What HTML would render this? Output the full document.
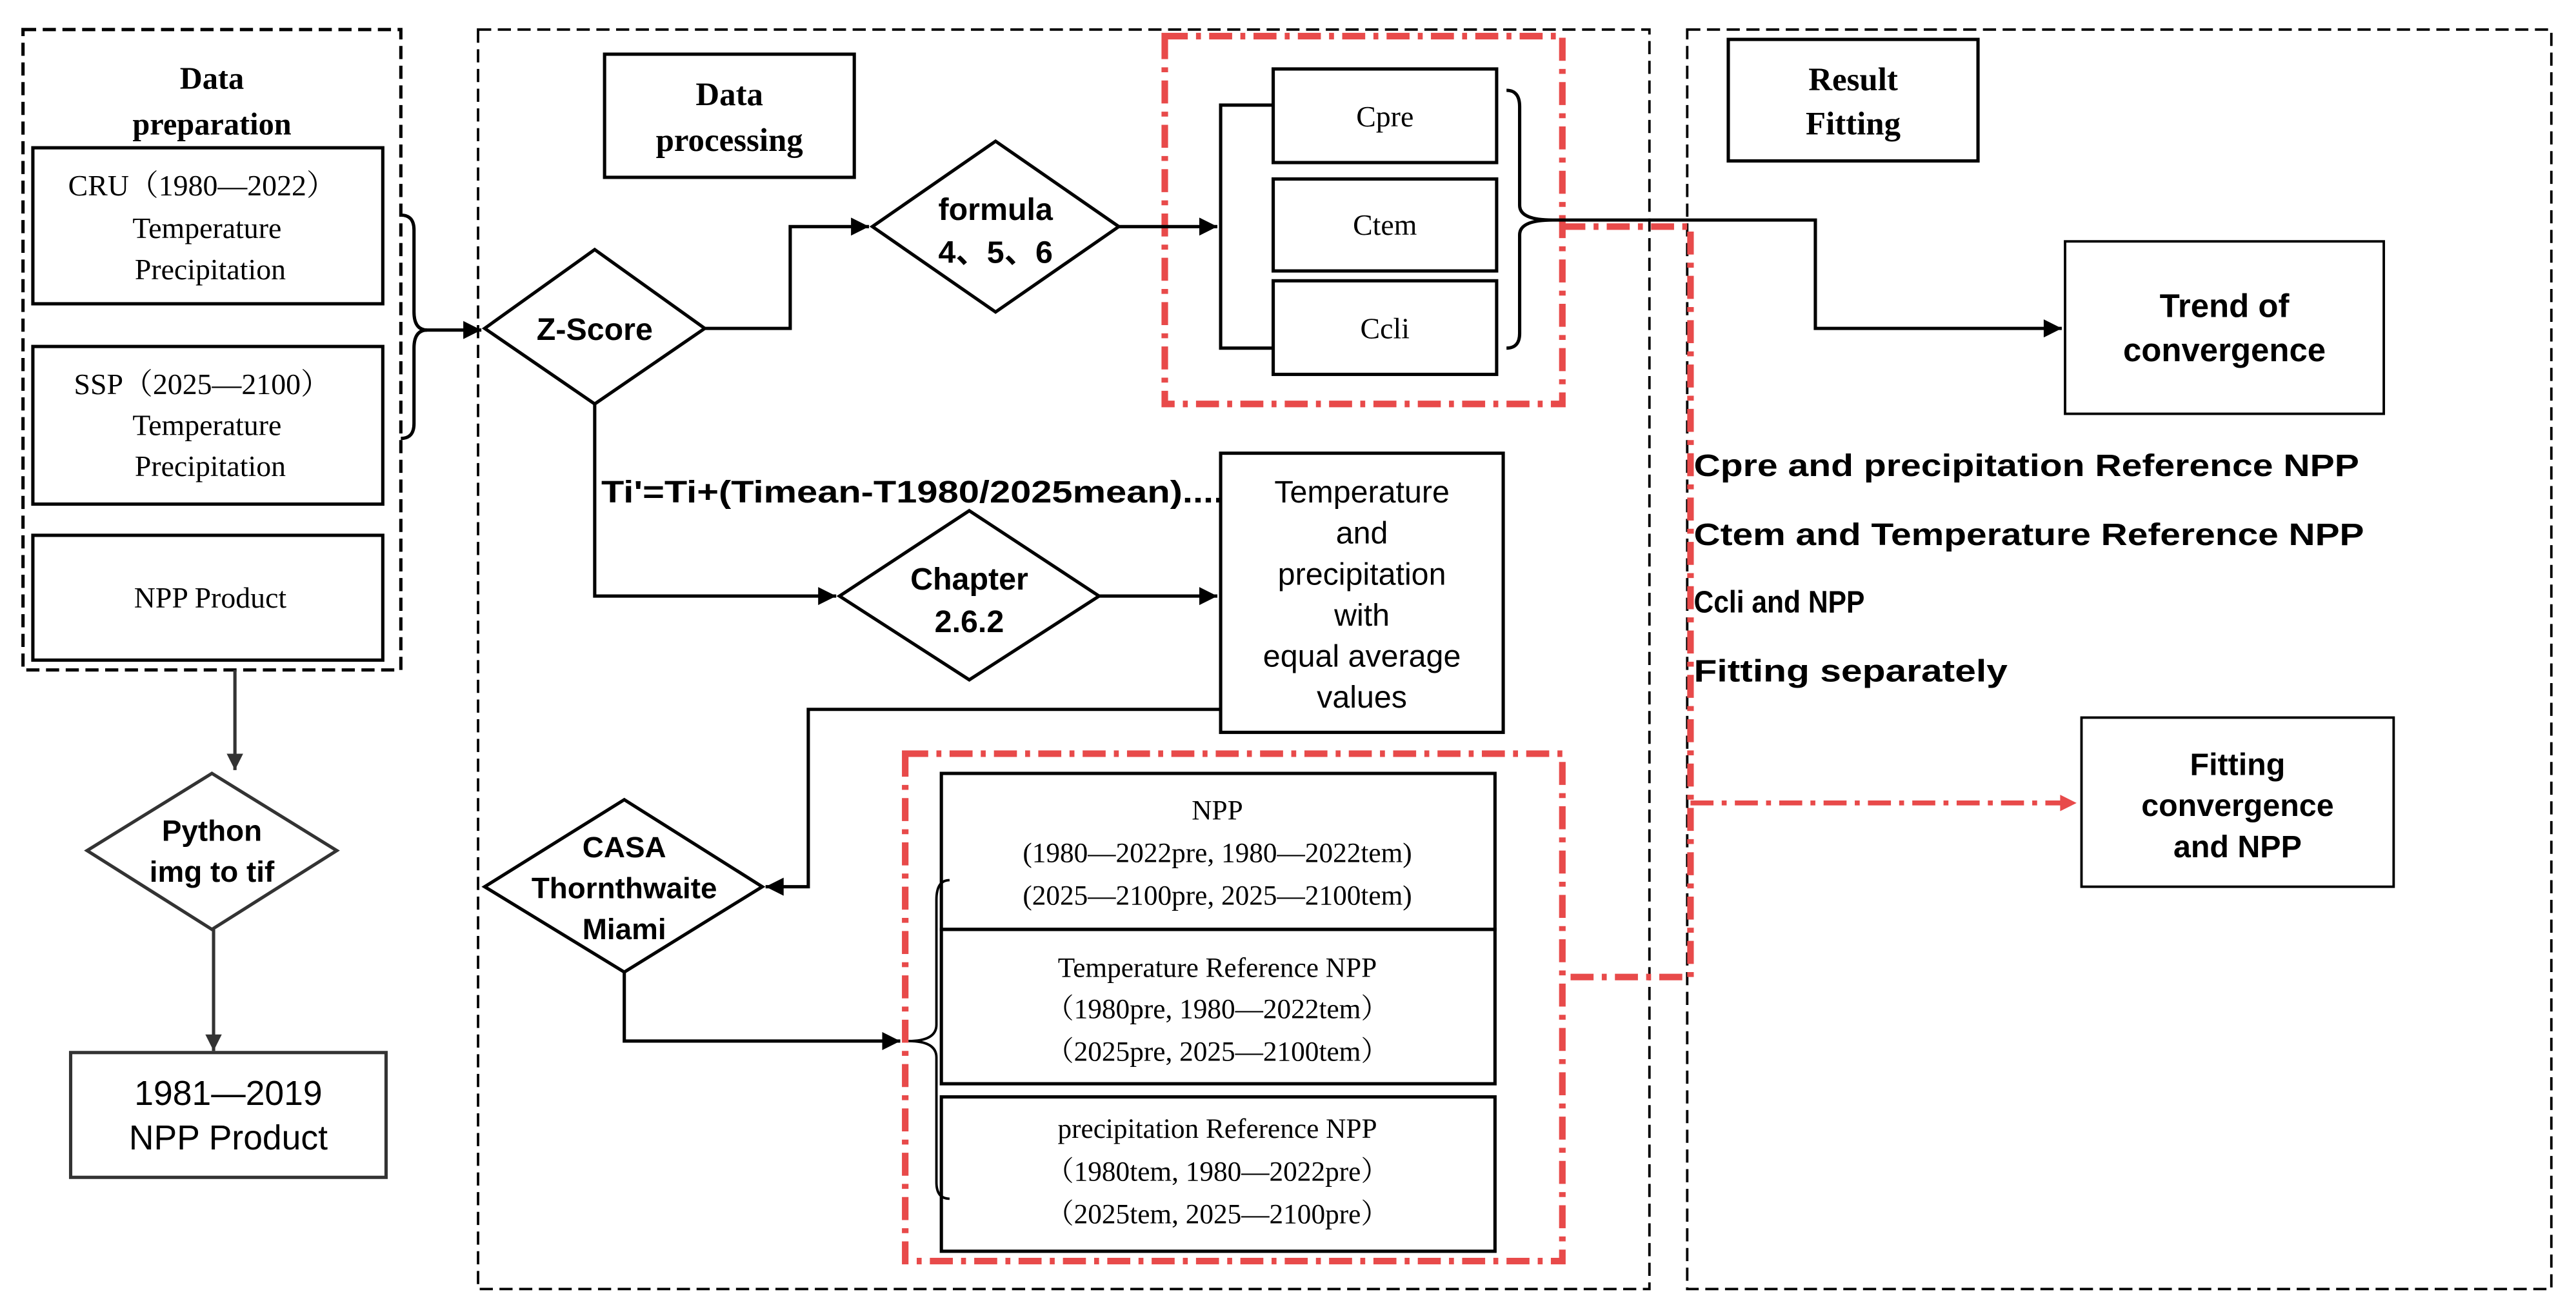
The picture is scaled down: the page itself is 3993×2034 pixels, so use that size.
<!DOCTYPE html>
<html><head><meta charset="utf-8"><style>
html,body{margin:0;padding:0;background:#fff;}
svg{display:block;}
.sf{font-family:"Liberation Serif","Noto Serif CJK SC",serif;}
.ss{font-family:"Liberation Sans","Noto Sans CJK SC",sans-serif;}
</style></head><body>
<svg width="3993" height="2034" viewBox="0 0 1568 799" preserveAspectRatio="none" xmlns="http://www.w3.org/2000/svg">
<defs>
<marker id="ah" viewBox="0 0 10 10" refX="10" refY="5" markerWidth="12" markerHeight="11" markerUnits="userSpaceOnUse" orient="auto"><path d="M0,0 L10,5 L0,10 z" fill="#000"/></marker>
<marker id="ahg" viewBox="0 0 10 10" refX="10" refY="5" markerWidth="14" markerHeight="10" markerUnits="userSpaceOnUse" orient="auto"><path d="M0,0 L10,5 L0,10 z" fill="#333"/></marker>
<marker id="ahr" viewBox="0 0 10 10" refX="10" refY="5" markerWidth="12" markerHeight="10" markerUnits="userSpaceOnUse" orient="auto"><path d="M0,0 L10,5 L0,10 z" fill="#e84a4a"/></marker>
</defs>
<rect width="1568" height="799" fill="#fff"/>
<g fill="none" stroke="#000" stroke-width="2" stroke-dasharray="8,4">
<rect x="14" y="18" width="230" height="390"/>
<rect x="291" y="18" width="713" height="767" stroke-width="1.5"/>
<rect x="1027" y="18" width="526" height="767" stroke-width="1.5"/>
</g>
<g fill="none" stroke="#e84a4a" stroke-width="4" stroke-dasharray="14,5,3,5">
<rect x="709" y="22" width="242" height="224"/>
<rect x="551" y="459" width="400" height="309"/>
<polyline points="951,138 1029,138 1029,595 951,595"/>
<line x1="1029" y1="489" x2="1264" y2="489" stroke-width="3" marker-end="url(#ahr)"/>
</g>
<g fill="none" stroke="#000" stroke-width="2">
<rect x="20" y="90" width="213" height="95"/>
<rect x="20" y="211" width="213" height="96"/>
<rect x="20" y="326" width="213" height="76"/>
<rect x="368" y="33" width="152" height="75"/>
<rect x="775" y="42" width="136" height="57"/>
<rect x="775" y="109" width="136" height="56"/>
<rect x="775" y="171" width="136" height="57"/>
<rect x="1052" y="24" width="152" height="74"/>
<rect x="1257" y="147" width="194" height="105" stroke-width="1.5"/>
<rect x="1267" y="437" width="190" height="103" stroke-width="1.5"/>
<rect x="743" y="276" width="172" height="170"/>
<rect x="573" y="471" width="337" height="95"/>
<rect x="573" y="566" width="337" height="94"/>
<rect x="573" y="668" width="337" height="94"/>
<rect x="43" y="641" width="192" height="76" stroke="#333"/>
<polygon points="362,152 429,200 362,246 295,200"/>
<polygon points="606,86 681,138 606,190 531,138"/>
<polygon points="590,311 669,363 590,414 511,363"/>
<polygon points="380,487 464,540 380,592 295,540"/>
<polygon points="129,471 205,518 129,566 53,518" stroke="#333"/>
</g>
<g fill="none" stroke="#000" stroke-width="2">
<path d="M244,131 Q252,131 252,140 L252,190 Q252,201 260,201 Q252,201 252,212 L252,258 Q252,267 244,267"/>
<line x1="256" y1="201" x2="293" y2="201" marker-end="url(#ah)"/>
<polyline points="429,200 481,200 481,138 529,138" marker-end="url(#ah)"/>
<line x1="681" y1="138" x2="741" y2="138" marker-end="url(#ah)"/>
<polyline points="775,64 743,64 743,212 775,212"/>
<path d="M917,55 Q925,55 925,65 L925,125 Q925,134 945,134 Q925,134 925,143 L925,203 Q925,212 917,212"/>
<polyline points="945,134 1105,134 1105,200 1255,200" marker-end="url(#ah)"/>
<polyline points="362,246 362,363 509,363" marker-end="url(#ah)"/>
<line x1="669" y1="363" x2="741" y2="363" marker-end="url(#ah)"/>
<polyline points="743,432 492,432 492,540 466,540" marker-end="url(#ah)"/>
<polyline points="380,592 380,634 548,634" marker-end="url(#ah)"/>
<path d="M578,536 Q570,536 570,548 L570,624 Q570,634 553,634 Q570,634 570,644 L570,720 Q570,730 578,730" stroke-width="1.5"/>
<line x1="143" y1="408" x2="143" y2="469" stroke="#333" marker-end="url(#ahg)"/>
<line x1="130" y1="566" x2="130" y2="640" stroke="#333" marker-end="url(#ahg)"/>
</g>
<g class="sf" text-anchor="middle" fill="#000">
<text x="129" y="54" font-size="19" font-weight="bold">Data</text>
<text x="129" y="82" font-size="19" font-weight="bold">preparation</text>
<text x="123" y="119" font-size="18">CRU（1980—2022）</text>
<text x="126" y="145" font-size="18">Temperature</text>
<text x="128" y="170" font-size="18">Precipitation</text>
<text x="123" y="240" font-size="18">SSP（2025—2100）</text>
<text x="126" y="265" font-size="18">Temperature</text>
<text x="128" y="290" font-size="18">Precipitation</text>
<text x="128" y="370" font-size="18">NPP Product</text>
<text x="444" y="64" font-size="20" font-weight="bold">Data</text>
<text x="444" y="92" font-size="20" font-weight="bold">processing</text>
<text x="1128" y="55" font-size="20" font-weight="bold">Result</text>
<text x="1128" y="82" font-size="20" font-weight="bold">Fitting</text>
<text x="843" y="77" font-size="18">Cpre</text>
<text x="843" y="143" font-size="18">Ctem</text>
<text x="843" y="206" font-size="18">Ccli</text>
<text x="741" y="499" font-size="17">NPP</text>
<text x="741" y="525" font-size="17">(1980—2022pre, 1980—2022tem)</text>
<text x="741" y="551" font-size="17">(2025—2100pre, 2025—2100tem)</text>
<text x="741" y="595" font-size="17">Temperature Reference NPP</text>
<text x="741" y="620" font-size="17">（1980pre, 1980—2022tem）</text>
<text x="741" y="646" font-size="17">（2025pre, 2025—2100tem）</text>
<text x="741" y="693" font-size="17">precipitation Reference NPP</text>
<text x="741" y="719" font-size="17">（1980tem, 1980—2022pre）</text>
<text x="741" y="745" font-size="17">（2025tem, 2025—2100pre）</text>
</g>
<g class="ss" text-anchor="middle" fill="#000" font-weight="bold">
<text x="362" y="207" font-size="19">Z-Score</text>
<text x="606" y="134" font-size="19">formula</text>
<text x="606" y="160" font-size="19">4、5、6</text>
<text x="590" y="359" font-size="19">Chapter</text>
<text x="590" y="385" font-size="19">2.6.2</text>
<text x="380" y="522" font-size="18">CASA</text>
<text x="380" y="547" font-size="18">Thornthwaite</text>
<text x="380" y="572" font-size="18">Miami</text>
<text x="129" y="512" font-size="18">Python</text>
<text x="129" y="537" font-size="18">img to tif</text>
<text x="1354" y="193" font-size="20">Trend of</text>
<text x="1354" y="220" font-size="20">convergence</text>
<text x="1362" y="472" font-size="19">Fitting</text>
<text x="1362" y="497" font-size="19">convergence</text>
<text x="1362" y="522" font-size="19">and NPP</text>
</g>
<g class="ss" fill="#000" font-weight="bold" font-size="19">
<text x="366" y="306" textLength="379" lengthAdjust="spacingAndGlyphs">Ti'=Ti+(Timean-T1980/2025mean)....</text>
<text x="1031" y="290" textLength="405" lengthAdjust="spacingAndGlyphs">Cpre and precipitation Reference NPP</text>
<text x="1031" y="332" textLength="408" lengthAdjust="spacingAndGlyphs">Ctem and Temperature Reference NPP</text>
<text x="1031" y="373" textLength="104" lengthAdjust="spacingAndGlyphs">Ccli and NPP</text>
<text x="1031" y="415" textLength="191" lengthAdjust="spacingAndGlyphs">Fitting separately</text>
</g>
<g class="ss" text-anchor="middle" fill="#000" font-size="19">
<text x="829" y="306">Temperature</text>
<text x="829" y="331">and</text>
<text x="829" y="356">precipitation</text>
<text x="829" y="381">with</text>
<text x="829" y="406">equal average</text>
<text x="829" y="431">values</text>
<text x="139" y="673" font-size="21">1981—2019</text>
<text x="139" y="700" font-size="21">NPP Product</text>
</g>
</svg>
</body></html>
